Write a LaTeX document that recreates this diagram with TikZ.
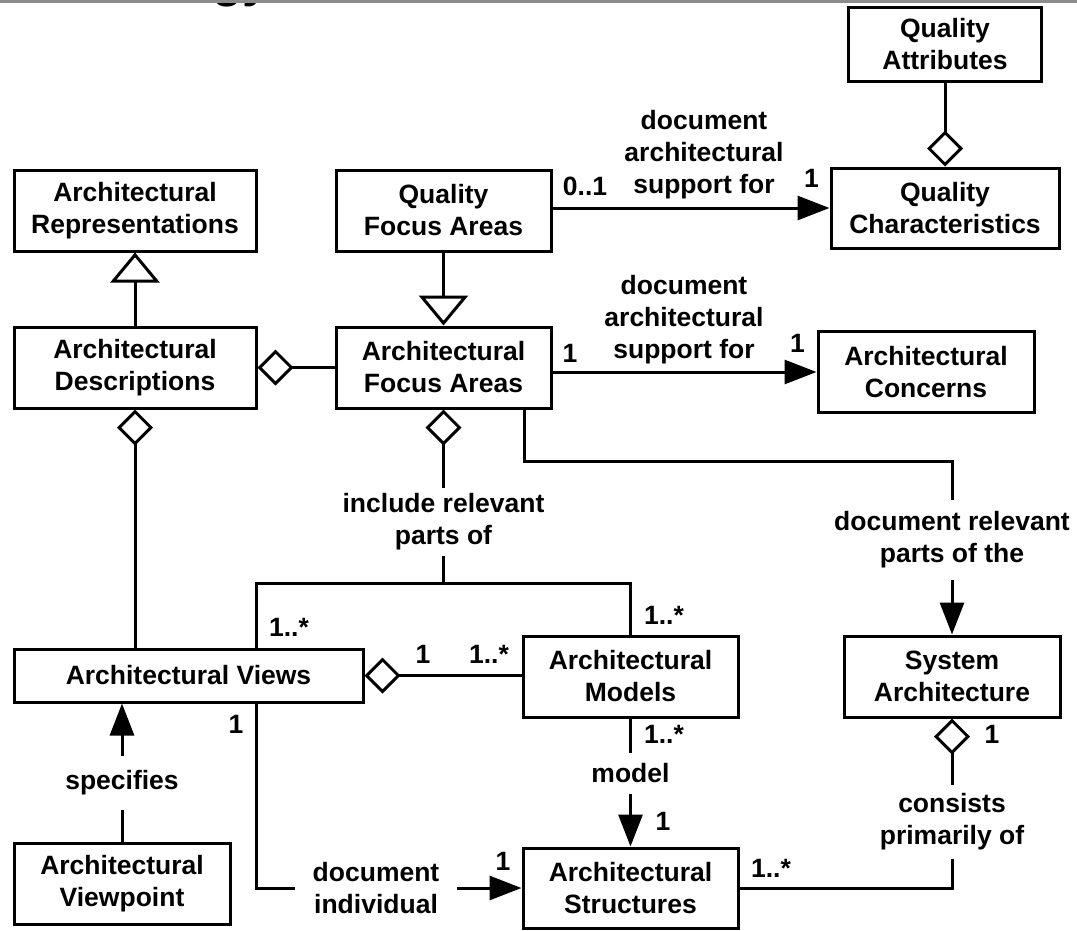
\documentclass[tikz,border=0pt]{standalone}
\usepackage{fontspec}
\setmainfont{Liberation Sans}
\usetikzlibrary{arrows.meta}
\definecolor{rulegray}{RGB}{140,140,140}

\begin{document}
\begin{tikzpicture}[x=1pt, y=-1pt,
  every node/.style={font=\fontsize{26.5}{32}\selectfont\bfseries},
  box/.style={draw, line width=3pt, align=center, inner sep=0pt},
  lbl/.style={align=center, inner sep=0pt, outer sep=#1, anchor=north},
  mult/.style={anchor=base, inner sep=0pt},
  conn/.style={line width=3pt},
  arr/.style={conn, -{Triangle[length=32pt, width=24pt]}},
  agg/.style={conn, -{Diamond[open, length=36pt, width=36pt]}},
  gen/.style={conn, -{Triangle[open, length=30pt, width=49pt]}},
]
\useasboundingbox (0,0) rectangle (1077,930);

% cut-off heading and rule along the top edge
\begin{scope}
  \clip (0,0) rectangle (1077,930);
  \node[anchor=base west, inner sep=0pt, font=\fontsize{50}{50}\selectfont\bfseries] (title) at (212,-4) {gy};
\end{scope}
\fill[rulegray] (0,0) rectangle (1077,2.5);

% classes
\node[box, minimum width=193pt, minimum height=74pt] (QA)  at (945,44)      {Quality\\Attributes};
\node[box, minimum width=228pt, minimum height=80pt] (QC)  at (945,208)     {Quality\\Characteristics};
\node[box, minimum width=242pt, minimum height=81pt] (AR)  at (135,210.5)   {Architectural\\Representations};
\node[box, minimum width=215pt, minimum height=81pt] (QF)  at (443.5,210.5) {Quality\\Focus Areas};
\node[box, minimum width=242pt, minimum height=81pt] (AD)  at (135,367.5)   {Architectural\\Descriptions};
\node[box, minimum width=215pt, minimum height=81pt] (AF)  at (443.5,367.5) {Architectural\\Focus Areas};
\node[box, minimum width=216pt, minimum height=81pt] (AC)  at (926,372)     {Architectural\\Concerns};
\node[box, minimum width=349pt, minimum height=53pt] (AV)  at (188.5,675.5) {Architectural Views};
\node[box, minimum width=215pt, minimum height=81pt] (AM)  at (630.5,676.5) {Architectural\\Models};
\node[box, minimum width=216pt, minimum height=81pt] (SA)  at (952,676.5)   {System\\Architecture};
\node[box, minimum width=216pt, minimum height=81pt] (AVP) at (122,883.5)   {Architectural\\Viewpoint};
\node[box, minimum width=215pt, minimum height=80pt] (AS)  at (630.5,888)   {Architectural\\Structures};

% association names
\node[lbl=0pt]    (Ltop)    at (704,110.7)   {document\\architectural\\support for};
\node[lbl=0pt]    (Lbot)    at (684,275.7)   {document\\architectural\\support for};
\node[lbl=5.5pt]  (Lincl)   at (443.5,488.2) {include relevant\\parts of};
\node[lbl=12pt]   (Ldocrel) at (952,499.7)   {document relevant\\parts of the};
\node[lbl=14.5pt] (Lspec)   at (122,756.2)   {specifies};
\node[lbl=11pt]   (Lmodel)  at (630.5,752.7) {model};
\node[lbl=9pt]    (Lcons)   at (952,784.7)   {consists\\primarily of};
\node[lbl=18pt]   (Ldocind) at (376,844.7)   {document\\individual};

% multiplicities
\node[mult] (m01)  at (585,195)   {0..1};
\node[mult] (mQC)  at (811.5,187) {1};
\node[mult] (mAF)  at (570,362)   {1};
\node[mult] (mAC)  at (797.5,352) {1};
\node[mult] (mAVt) at (289,636)   {1..*};
\node[mult] (mAVr) at (423,663)   {1};
\node[mult] (mAMl) at (489,663)   {1..*};
\node[mult] (mAMt) at (664,624)   {1..*};
\node[mult] (mAVb) at (236,733)   {1};
\node[mult] (mAMb) at (664,743)   {1..*};
\node[mult] (mASt) at (663,830)   {1};
\node[mult] (mASl) at (503,870)   {1};
\node[mult] (mASr) at (771,877)   {1..*};
\node[mult] (mSA)  at (992,743)   {1};

% bend points
\coordinate (jl)   at (256,583);
\coordinate (bend) at (524,461);

% connectors
\draw[agg] (QC.north |- QA.south) -- (QC.north);
\draw[arr] (QF.east |- QC.west) -- (QC.west);
\draw[gen] (QF.south) -- (AF.north);
\draw[gen] (AD.north) -- (AR.south);
\draw[agg] (AF.west) -- (AD.east);
\draw[arr] (AF.east |- AC.west) -- (AC.west);
\draw[agg] (AD.south |- AV.north) -- (AD.south);

\draw[agg] (Lincl.north) -- (AF.south);
\draw[conn] (Lincl.south) -- (Lincl.south |- jl);
\draw[conn] (jl |- AV.north) -- (jl) -| (AM.north);

\draw[conn] (bend |- AF.south) -- (bend) -| (Ldocrel.north);
\draw[arr] (Ldocrel.south) -- (SA.north);

\draw[agg] (AM.west |- AV.east) -- (AV.east);

\draw[conn] (AVP.north) -- (Lspec.south);
\draw[arr] (Lspec.north) -- (Lspec.north |- AV.south);

\draw[conn] (AM.south) -- (Lmodel.north);
\draw[arr] (Lmodel.south) -- (AS.north);

\draw[conn] (jl |- AV.south) |- (Ldocind.west |- AS.west);
\draw[arr] (Ldocind.east |- AS.west) -- (AS.west);

\draw[agg] (Lcons.north) -- (SA.south);
\draw[conn] (Lcons.south) |- (AS.east);
\end{tikzpicture}
\end{document}
